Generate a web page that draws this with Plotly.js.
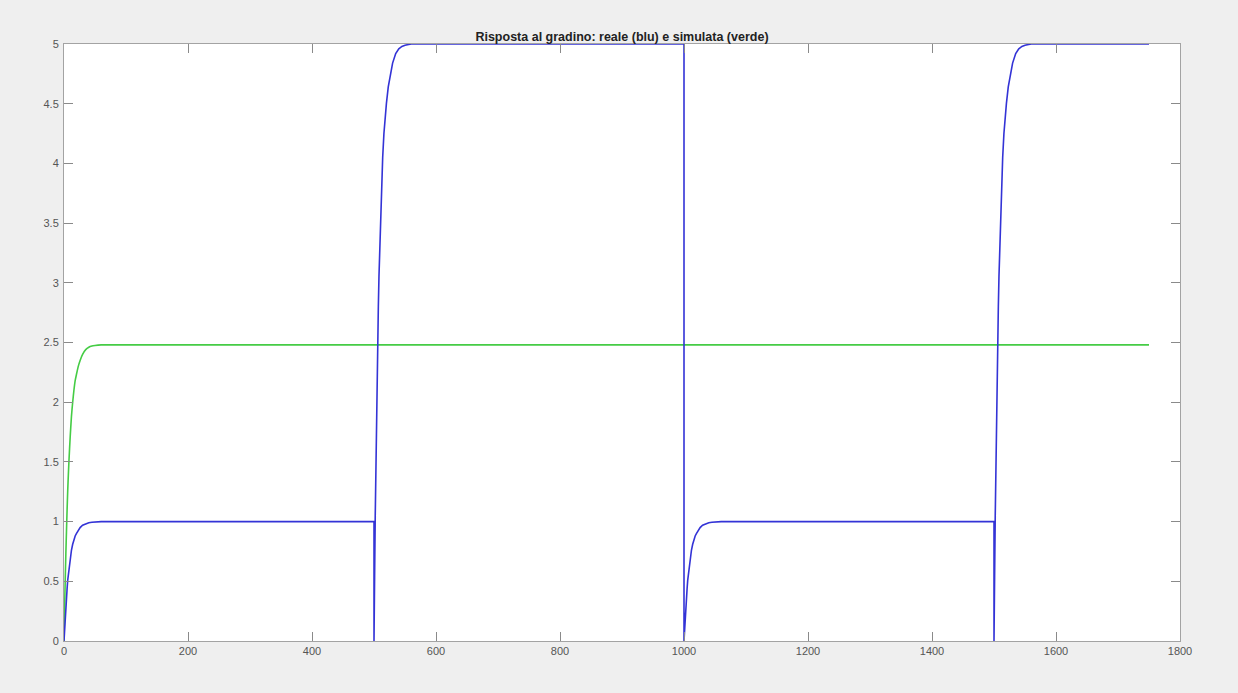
<!DOCTYPE html>
<html>
<head>
<meta charset="utf-8">
<script src="https://cdn.plot.ly/plotly-3.0.1.min.js"></script>
<style>
  html, body { margin: 0; padding: 0; background: #efefef; }
  #chart { width: 1238px; height: 693px; }
</style>
</head>
<body>
<div id="chart"></div>
<script>
// Blue: measured ("reale") step response
const realeT = [
  0, 1, 2, 3, 4, 5, 6, 7, 8, 10, 12, 14, 16, 18, 20, 23, 26, 30, 35, 40, 45, 50, 60, 500,
  500, 501, 502, 503, 504, 505, 506, 507, 508, 510, 512, 514, 516, 518, 520, 523, 526, 530, 535, 540, 545, 550, 560, 1000,
  1000, 1001, 1002, 1003, 1004, 1005, 1006, 1007, 1008, 1010, 1012, 1014, 1016, 1018, 1020, 1023, 1026, 1030, 1035, 1040, 1045, 1050, 1060, 1500,
  1500, 1501, 1502, 1503, 1504, 1505, 1506, 1507, 1508, 1510, 1512, 1514, 1516, 1518, 1520, 1523, 1526, 1530, 1535, 1540, 1545, 1550, 1560, 1750
];
const realeY = [
  0, 0.11, 0.21, 0.29, 0.37, 0.44, 0.51, 0.56, 0.61, 0.69, 0.76, 0.81, 0.85, 0.88, 0.90, 0.93, 0.95, 0.97, 0.983, 0.99, 0.995, 0.998, 1, 1,
  0, 0.55, 1.05, 1.5, 1.85, 2.2, 2.55, 2.8, 3.05, 3.45, 3.8, 4.05, 4.25, 4.4, 4.5, 4.64, 4.74, 4.84, 4.92, 4.96, 4.98, 4.99, 5, 5,
  0, 0.11, 0.21, 0.29, 0.37, 0.44, 0.51, 0.56, 0.61, 0.69, 0.76, 0.81, 0.85, 0.88, 0.90, 0.93, 0.95, 0.97, 0.983, 0.99, 0.995, 0.998, 1, 1,
  0, 0.55, 1.05, 1.5, 1.85, 2.2, 2.55, 2.8, 3.05, 3.45, 3.8, 4.05, 4.25, 4.4, 4.5, 4.64, 4.74, 4.84, 4.92, 4.96, 4.98, 4.99, 5, 5
];
// Green: simulated ("simulata") step response
const simT = [0, 1, 2, 3, 4, 5, 6, 7, 8, 10, 12, 14, 16, 18, 20, 23, 26, 30, 35, 40, 45, 50, 60, 1750];
const simY = [0, 0.27, 0.52, 0.73, 0.92, 1.1, 1.26, 1.39, 1.51, 1.71, 1.88, 2.0, 2.1, 2.18, 2.23, 2.3, 2.35, 2.4, 2.44, 2.46, 2.47, 2.475, 2.48, 2.48];

const titleText = 'Risposta al gradino: reale (blu) e simulata (verde)';
const xTicks = [0, 200, 400, 600, 800, 1000, 1200, 1400, 1600, 1800];
const yTicks = [0, 0.5, 1, 1.5, 2, 2.5, 3, 3.5, 4, 4.5, 5];

const traces = [
  { x: simT, y: simY, type: 'scatter', mode: 'lines',
    line: { color: '#45cc45', width: 1.6, shape: 'spline', smoothing: 0.6 }, hoverinfo: 'skip' },
  { x: realeT, y: realeY, type: 'scatter', mode: 'lines',
    line: { color: '#3333d6', width: 1.6 }, hoverinfo: 'skip' }
];

const axisCommon = {
  showgrid: false, zeroline: false,
  showline: true, linecolor: '#a3a3a3', linewidth: 1, mirror: 'ticks',
  ticks: 'inside', ticklen: 9, tickcolor: '#8a8a8a', tickwidth: 1,
  tickfont: { family: 'Liberation Sans, Arial, sans-serif', size: 11, color: '#555555' }
};

const layout = {
  width: 1238, height: 693,
  paper_bgcolor: '#efefef', plot_bgcolor: '#ffffff',
  showlegend: false,
  margin: { l: 64, r: 58, t: 44, b: 52 },
  title: {
    text: titleText,
    font: { family: 'Liberation Sans, Arial, sans-serif', size: 12.5, color: '#222222', weight: 'bold' },
    x: 0.5, xref: 'paper', xanchor: 'center',
    y: 1, yref: 'paper', yanchor: 'bottom', pad: { b: 3 }
  },
  xaxis: Object.assign({}, axisCommon, {
    range: [0, 1800], tickvals: xTicks, ticktext: xTicks.map(String)
  }),
  yaxis: Object.assign({}, axisCommon, {
    range: [0, 5], tickvals: yTicks, ticktext: yTicks.map(String), ticklabelstandoff: 2
  })
};

Plotly.newPlot('chart', traces, layout, { staticPlot: true, displayModeBar: false });
</script>
</body>
</html>
